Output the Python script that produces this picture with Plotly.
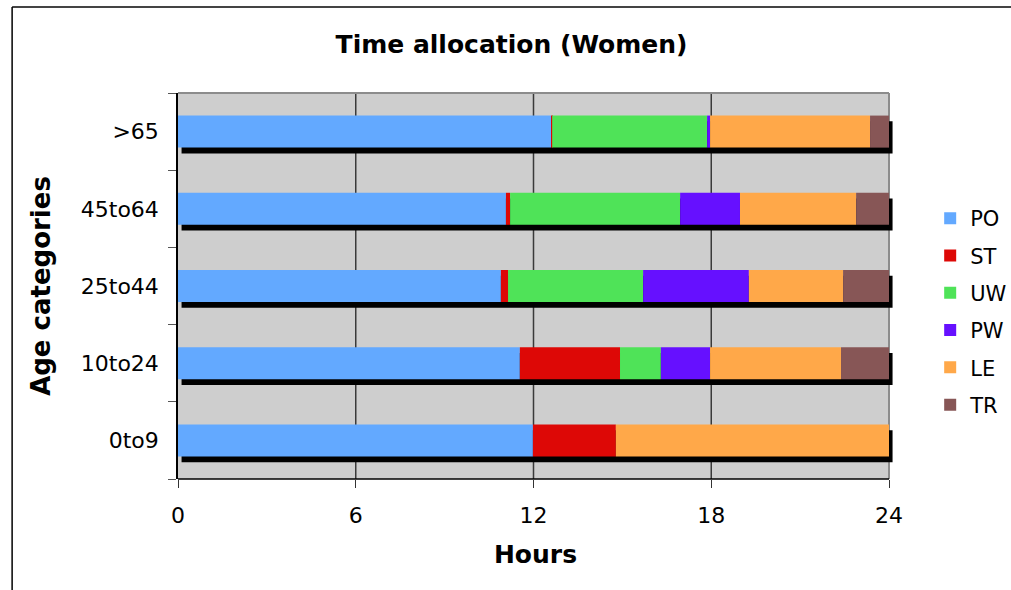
import plotly.graph_objects as go

# Age groups, bottom to top
age_groups = ["0to9", "10to24", "25to44", "45to64", ">65"]

# Hours per day spent on each activity, per age group
activities = ["PO", "ST", "UW", "PW", "LE", "TR"]
po = [11.98, 11.54, 10.90, 11.07, 12.60]
st = [2.80, 3.38, 0.24, 0.14, 0.03]
uw = [0.00, 1.38, 4.56, 5.74, 5.23]
pw = [0.00, 1.66, 3.57, 2.02, 0.10]
le = [9.22, 4.42, 3.18, 3.92, 5.40]
tr = [0.00, 1.62, 1.55, 1.11, 0.64]

colors = ["#63A9FF", "#DD0806", "#4FE358", "#6610FF", "#FFA849", "#875656"]
series = [po, st, uw, pw, le, tr]

x_ticks = [0, 6, 12, 18, 24]

FONT = "DejaVu Sans"
BAR_W = 0.415

# plot area: 711 px for 24 h, plus a few px of room on the right for the shadow
AREA_PX = 711
EXTRA_PX = 4
x_max = x_ticks[-1] * (AREA_PX + EXTRA_PX) / AREA_PX

fig = go.Figure()

# drop shadow behind each stacked bar (total of the day)
totals = [sum(v) for v in zip(*series)]
fig.add_trace(go.Bar(
    y=age_groups, x=totals, base=0.12, orientation="h",
    width=BAR_W, offset=-BAR_W / 2 - 0.075,
    marker=dict(color="black", line=dict(width=0)),
    showlegend=False, hoverinfo="skip",
))

for i, (name, vals, col) in enumerate(zip(activities, series, colors)):
    bases = [sum(s[j] for s in series[:i]) for j in range(len(age_groups))]
    fig.add_trace(go.Bar(
        y=age_groups, x=vals, base=bases, orientation="h", name=name,
        width=BAR_W, marker=dict(color=col, line=dict(width=0)),
        legendgroup=name,
    ))

x0, x1 = x_ticks[0], x_ticks[-1]
fig.update_layout(
    width=1011, height=590,
    margin=dict(l=178, r=122 - EXTRA_PX, t=93, b=111, autoexpand=False),
    paper_bgcolor="white", plot_bgcolor="rgba(0,0,0,0)",
    barmode="overlay",
    font=dict(family=FONT, size=22, color="black"),
    title=dict(text="<b>Time allocation (Women)</b>", x=0.506, xref="container",
               xanchor="center", y=0.925, yref="container", yanchor="middle",
               font=dict(family=FONT, size=25, color="black")),
    legend=dict(x=1.052, y=0.728, xanchor="left", yanchor="top",
                traceorder="grouped", tracegroupgap=7,
                font=dict(family=FONT, size=21), bgcolor="rgba(0,0,0,0)",
                itemwidth=30),
    xaxis=dict(range=[0, x_max], tickvals=x_ticks, ticks="outside", ticklen=8,
               tickcolor="#333", showgrid=False,
               zeroline=False, showline=False,
               ticklabelstandoff=9,
               title=dict(text="<b>Hours</b>", font=dict(family=FONT, size=25),
                          standoff=18)),
    yaxis=dict(categoryorder="array", categoryarray=age_groups,
               range=[-0.5, 4.5], tickson="boundaries", ticks="outside",
               ticklen=8, tickcolor="#555", showgrid=False, zeroline=False,
               showline=True, linecolor="black", linewidth=1.5,
               ticklabelstandoff=13,
               title=dict(text="<b>Age categories</b>",
                          font=dict(family=FONT, size=26), standoff=23)),
)

shapes = [
    # grey plot background spanning 0..24 h
    dict(type="rect", xref="x", yref="paper", x0=x0, x1=x1, y0=0, y1=1,
         fillcolor="#CECECE", line=dict(width=0), layer="below"),
]
# vertical grid lines at the inner ticks
for t in x_ticks[1:-1]:
    shapes.append(dict(type="line", xref="x", yref="paper", x0=t, x1=t, y0=0, y1=1,
                       line=dict(color="#3A3A3A", width=1.5), layer="below"))
shapes += [
    # grey frame on the top and right edges of the plot area
    dict(type="line", xref="x", yref="paper", x0=x0, x1=x1, y0=1, y1=1,
         line=dict(color="#8C8C8C", width=2), layer="above"),
    dict(type="line", xref="x", yref="paper", x0=x1, x1=x1, y0=0, y1=1,
         line=dict(color="#8C8C8C", width=2), layer="below"),
    # bottom axis line
    dict(type="line", xref="x", yref="paper", x0=x0, x1=x1, y0=0, y1=0,
         line=dict(color="black", width=1.5), layer="above"),
    # outer chart frame (top and left edges)
    dict(type="line", xref="paper", yref="paper", x0=-0.232, x1=1.166,
         y0=1.2228, y1=1.2228, line=dict(color="#444", width=2)),
    dict(type="line", xref="paper", yref="paper", x0=-0.232, x1=-0.232,
         y0=-0.29, y1=1.2228, line=dict(color="black", width=1.5)),
]
fig.update_layout(shapes=shapes)

fig.write_html("out.html", config={"displayModeBar": False})
